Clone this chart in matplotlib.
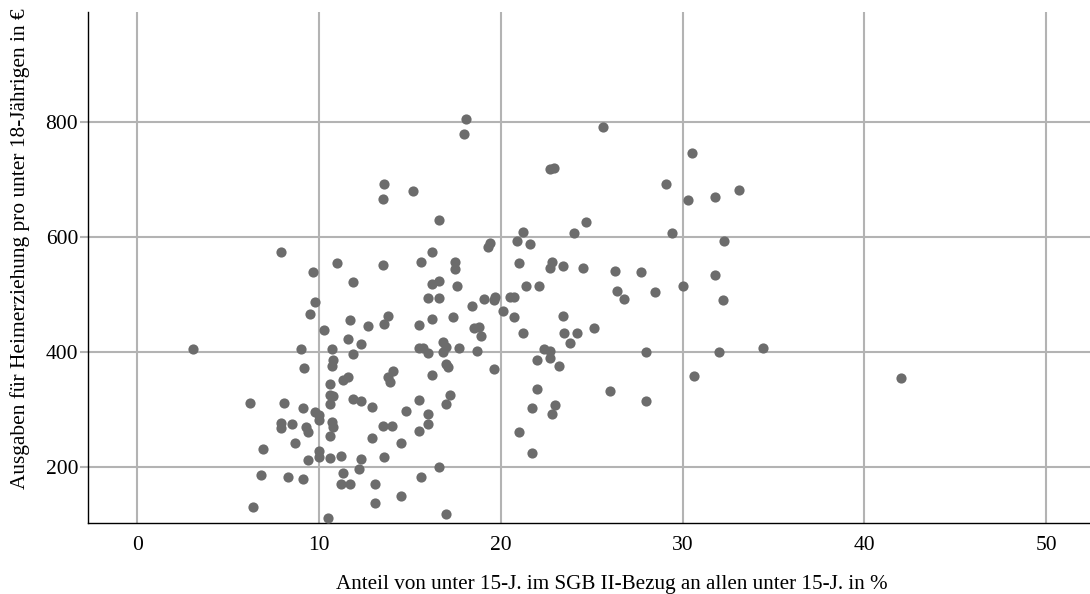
"""Streudiagramm: SGB II-Quote unter 15-J. vs. Ausgaben fuer Heimerziehung."""
import matplotlib

matplotlib.use("Agg")
import matplotlib.pyplot as plt

# Anteil von unter 15-J. im SGB II-Bezug (%)
sgb2_share = [
    7.9, 11.0, 9.7, 11.9, 9.8, 9.5, 11.7, 12.7, 10.3, 11.6, 12.3, 3.1, 9.0, 10.7,
    11.9, 10.8, 10.7, 9.2, 11.3, 11.6, 10.6, 10.6, 10.8, 10.6, 11.9, 12.3, 12.9,
    6.2, 8.1, 9.1, 9.8, 10.0, 10.0, 7.9, 7.9, 8.5, 9.3, 9.4, 10.7, 10.8, 10.6,
    6.9, 8.7, 10.0, 10.0, 9.4, 10.6, 11.2, 12.3, 12.2, 6.8, 8.3, 9.1, 11.3, 11.2,
    11.7, 6.4, 10.5,
    19.4, 19.3, 20.9, 21.6, 13.5, 16.2, 15.6, 17.5, 17.5, 21.0, 16.2, 16.6, 17.6,
    21.4, 22.1, 16.0, 16.6, 18.4, 19.1, 19.6, 19.7, 20.5, 20.7, 20.1, 20.7, 13.8,
    13.6, 15.5, 16.2, 17.4, 18.5, 18.8, 18.9, 21.2, 15.5, 15.7, 16.0, 16.8, 17.0,
    16.8, 17.7, 18.7, 22.0, 17.0, 17.1, 14.1, 13.8, 13.9, 16.2, 19.6, 22.0, 15.5,
    17.2, 17.0, 14.8, 16.0, 16.0, 21.7, 13.5, 14.0, 15.5, 12.9, 14.5, 21.0, 13.6,
    21.7, 16.6, 15.6, 13.1, 13.1, 14.5, 17.0,
    18.1, 18.0, 13.6, 13.5, 15.2, 16.6, 21.2, 22.7, 22.9,
    30.5, 29.1, 30.3, 31.8, 24.7, 24.0, 29.4, 32.3, 22.8, 22.7, 23.4, 24.5, 26.3,
    27.7, 31.8, 26.4, 26.8, 28.5, 30.0, 32.2, 23.4, 23.5, 24.2, 25.1, 23.8, 22.4,
    22.7, 22.7, 23.2, 28.0, 32.0, 30.6, 26.0, 28.0, 23.0, 22.8,
    33.1, 34.4, 42.0, 25.6,
]

# Ausgaben fuer Heimerziehung pro unter 18-Jaehrigen (EUR)
spending = [
    573, 555, 539, 522, 486, 466, 456, 445, 438, 423, 413, 405, 405, 405,
    396, 386, 376, 372, 351, 356, 344, 325, 323, 310, 319, 314, 305,
    312, 312, 302, 296, 290, 282, 276, 267, 274, 269, 260, 279, 269, 254,
    232, 241, 227, 218, 212, 216, 219, 214, 197, 186, 183, 179, 190, 170,
    170, 130, 112,
    589, 582, 592, 587, 551, 573, 556, 557, 544, 555, 518, 523, 514,
    514, 515, 493, 494, 480, 492, 490, 495, 495, 495, 471, 461, 463,
    448, 446, 458, 460, 441, 443, 428, 433, 406, 407, 398, 417, 409,
    400, 406, 402, 386, 379, 374, 367, 357, 347, 359, 371, 335, 317,
    325, 310, 298, 292, 274, 302, 271, 272, 263, 250, 242, 260, 217,
    225, 200, 183, 170, 138, 150, 119,
    805, 779, 692, 666, 679, 630, 609, 718, 719,
    745, 692, 664, 670, 625, 606, 606, 592, 556, 546, 550, 545, 541,
    539, 534, 505, 492, 504, 515, 490, 463, 432, 432, 442, 415, 405,
    402, 389, 376, 400, 400, 358, 332, 314, 307, 292,
    681, 407, 355, 791,
]

x_ticks = [0, 10, 20, 30, 40, 50]
y_ticks = [200, 400, 600, 800]

plt.rcParams["font.family"] = ["Liberation Serif", "DejaVu Serif"]

fig = plt.figure(figsize=(10.9, 5.94), dpi=100)
ax = fig.add_axes([0.0807, 0.1195, 0.9193, 0.8605])

ax.scatter(sgb2_share, spending, s=54, color="#6c6c6c", linewidths=0, zorder=3)

ax.set_xlim(-2.7, 52.4)
ax.set_ylim(102.6, 991)
ax.set_xticks(x_ticks)
ax.set_yticks(y_ticks)
ax.grid(color="#b3b3b3", linewidth=1.5)
ax.set_axisbelow(True)

for side in ("top", "right"):
    ax.spines[side].set_visible(False)
for side in ("left", "bottom"):
    ax.spines[side].set_linewidth(1.0)
    ax.spines[side].set_color("black")

ax.tick_params(axis="x", length=0, pad=9, labelsize=15.5)
ax.tick_params(axis="y", length=6, width=1.5, color="#b3b3b3", pad=1, labelsize=15.5)

ax.set_xlabel("Anteil von unter 15-J. im SGB II-Bezug an allen unter 15-J. in %", fontsize=15.2)
ax.set_ylabel("Ausgaben für Heimerziehung pro unter 18-Jährigen in €", fontsize=15.4)
ax.xaxis.set_label_coords(0.523, -0.102)
ax.yaxis.set_label_coords(-0.058, 0.536)

fig.savefig("out.png", dpi=100)
plt.close(fig)
